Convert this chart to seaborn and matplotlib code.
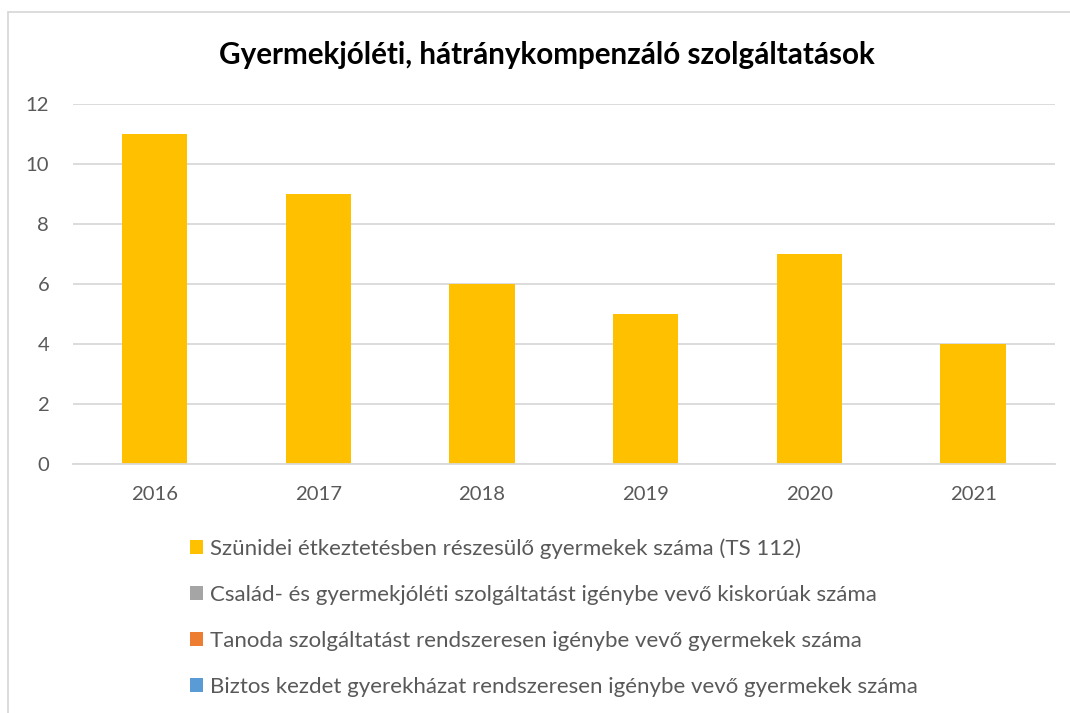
import matplotlib
matplotlib.use("Agg")
import matplotlib.pyplot as plt
from matplotlib.patches import Patch
from matplotlib.lines import Line2D
import pandas as pd
import seaborn as sns

# Chart data
years = ["2016", "2017", "2018", "2019", "2020", "2021"]
series_names = [
    "Szünidei étkeztetésben részesülő gyermekek száma (TS 112)",
    "Család- és gyermekjóléti szolgáltatást igénybe vevő kiskorúak száma",
    "Tanoda szolgáltatást rendszeresen igénybe vevő gyermekek száma",
    "Biztos kezdet gyerekházat rendszeresen igénybe vevő gyermekek száma",
]
szunidei = [11, 9, 6, 5, 7, 4]
csaladsegito = [0, 0, 0, 0, 0, 0]
tanoda = [0, 0, 0, 0, 0, 0]
biztos_kezdet = [0, 0, 0, 0, 0, 0]
colors = ["#FFC000", "#A5A5A5", "#ED7D31", "#5B9BD5"]
title = "Gyermekjóléti, hátránykompenzáló szolgáltatások"

sns.set_theme(style="white")
plt.rcParams["font.family"] = ["Lato", "DejaVu Sans"]

df = pd.DataFrame({
    "year": years * 4,
    "series": [s for s in series_names for _ in years],
    "value": szunidei + csaladsegito + tanoda + biztos_kezdet,
})

fig = plt.figure(figsize=(10.70, 7.13), dpi=100)
ax = fig.add_axes([0.068, 0.349, 0.918, 0.505])

sns.barplot(data=df, x="year", y="value", hue="series", hue_order=series_names,
            palette=colors, saturation=1, dodge=False, width=0.4, linewidth=0,
            ax=ax, legend=False, errorbar=None)

ax.set_ylim(0, 12)
ax.set_yticks(range(0, 13, 2))
ax.set_xlabel("")
ax.set_ylabel("")
ax.grid(axis="y", color="#D9D9D9", linewidth=1.3)
ax.set_axisbelow(True)
for side in ["left", "right", "top"]:
    ax.spines[side].set_visible(False)
ax.spines["bottom"].set_color("#D9D9D9")
ax.spines["bottom"].set_linewidth(1.3)
ax.tick_params(axis="both", length=0, labelsize=14.6, colors="#595959")
ax.tick_params(axis="x", pad=16)
ax.tick_params(axis="y", pad=17)

fig.text(0.511, 0.923, title, ha="center", va="center",
         fontsize=21.3, fontweight="bold", color="#000000")

handles = [Patch(facecolor=c, edgecolor="none") for c in colors]
fig.legend(handles, series_names, loc="upper left",
           bbox_to_anchor=(0.1776, 0.245), frameon=False,
           fontsize=16, labelcolor="#595959", handlelength=0.6,
           handleheight=0.6, handletextpad=0.32, labelspacing=1.17,
           borderaxespad=0, borderpad=0)

# Chart area outline
fig.add_artist(Line2D([0.0075, 0.0075], [0.0, 0.983], color="#D9D9D9", linewidth=1.3))
fig.add_artist(Line2D([0.0075, 1.0], [0.983, 0.983], color="#D9D9D9", linewidth=1.3))

fig.savefig("out.png", dpi=100, facecolor="white")
